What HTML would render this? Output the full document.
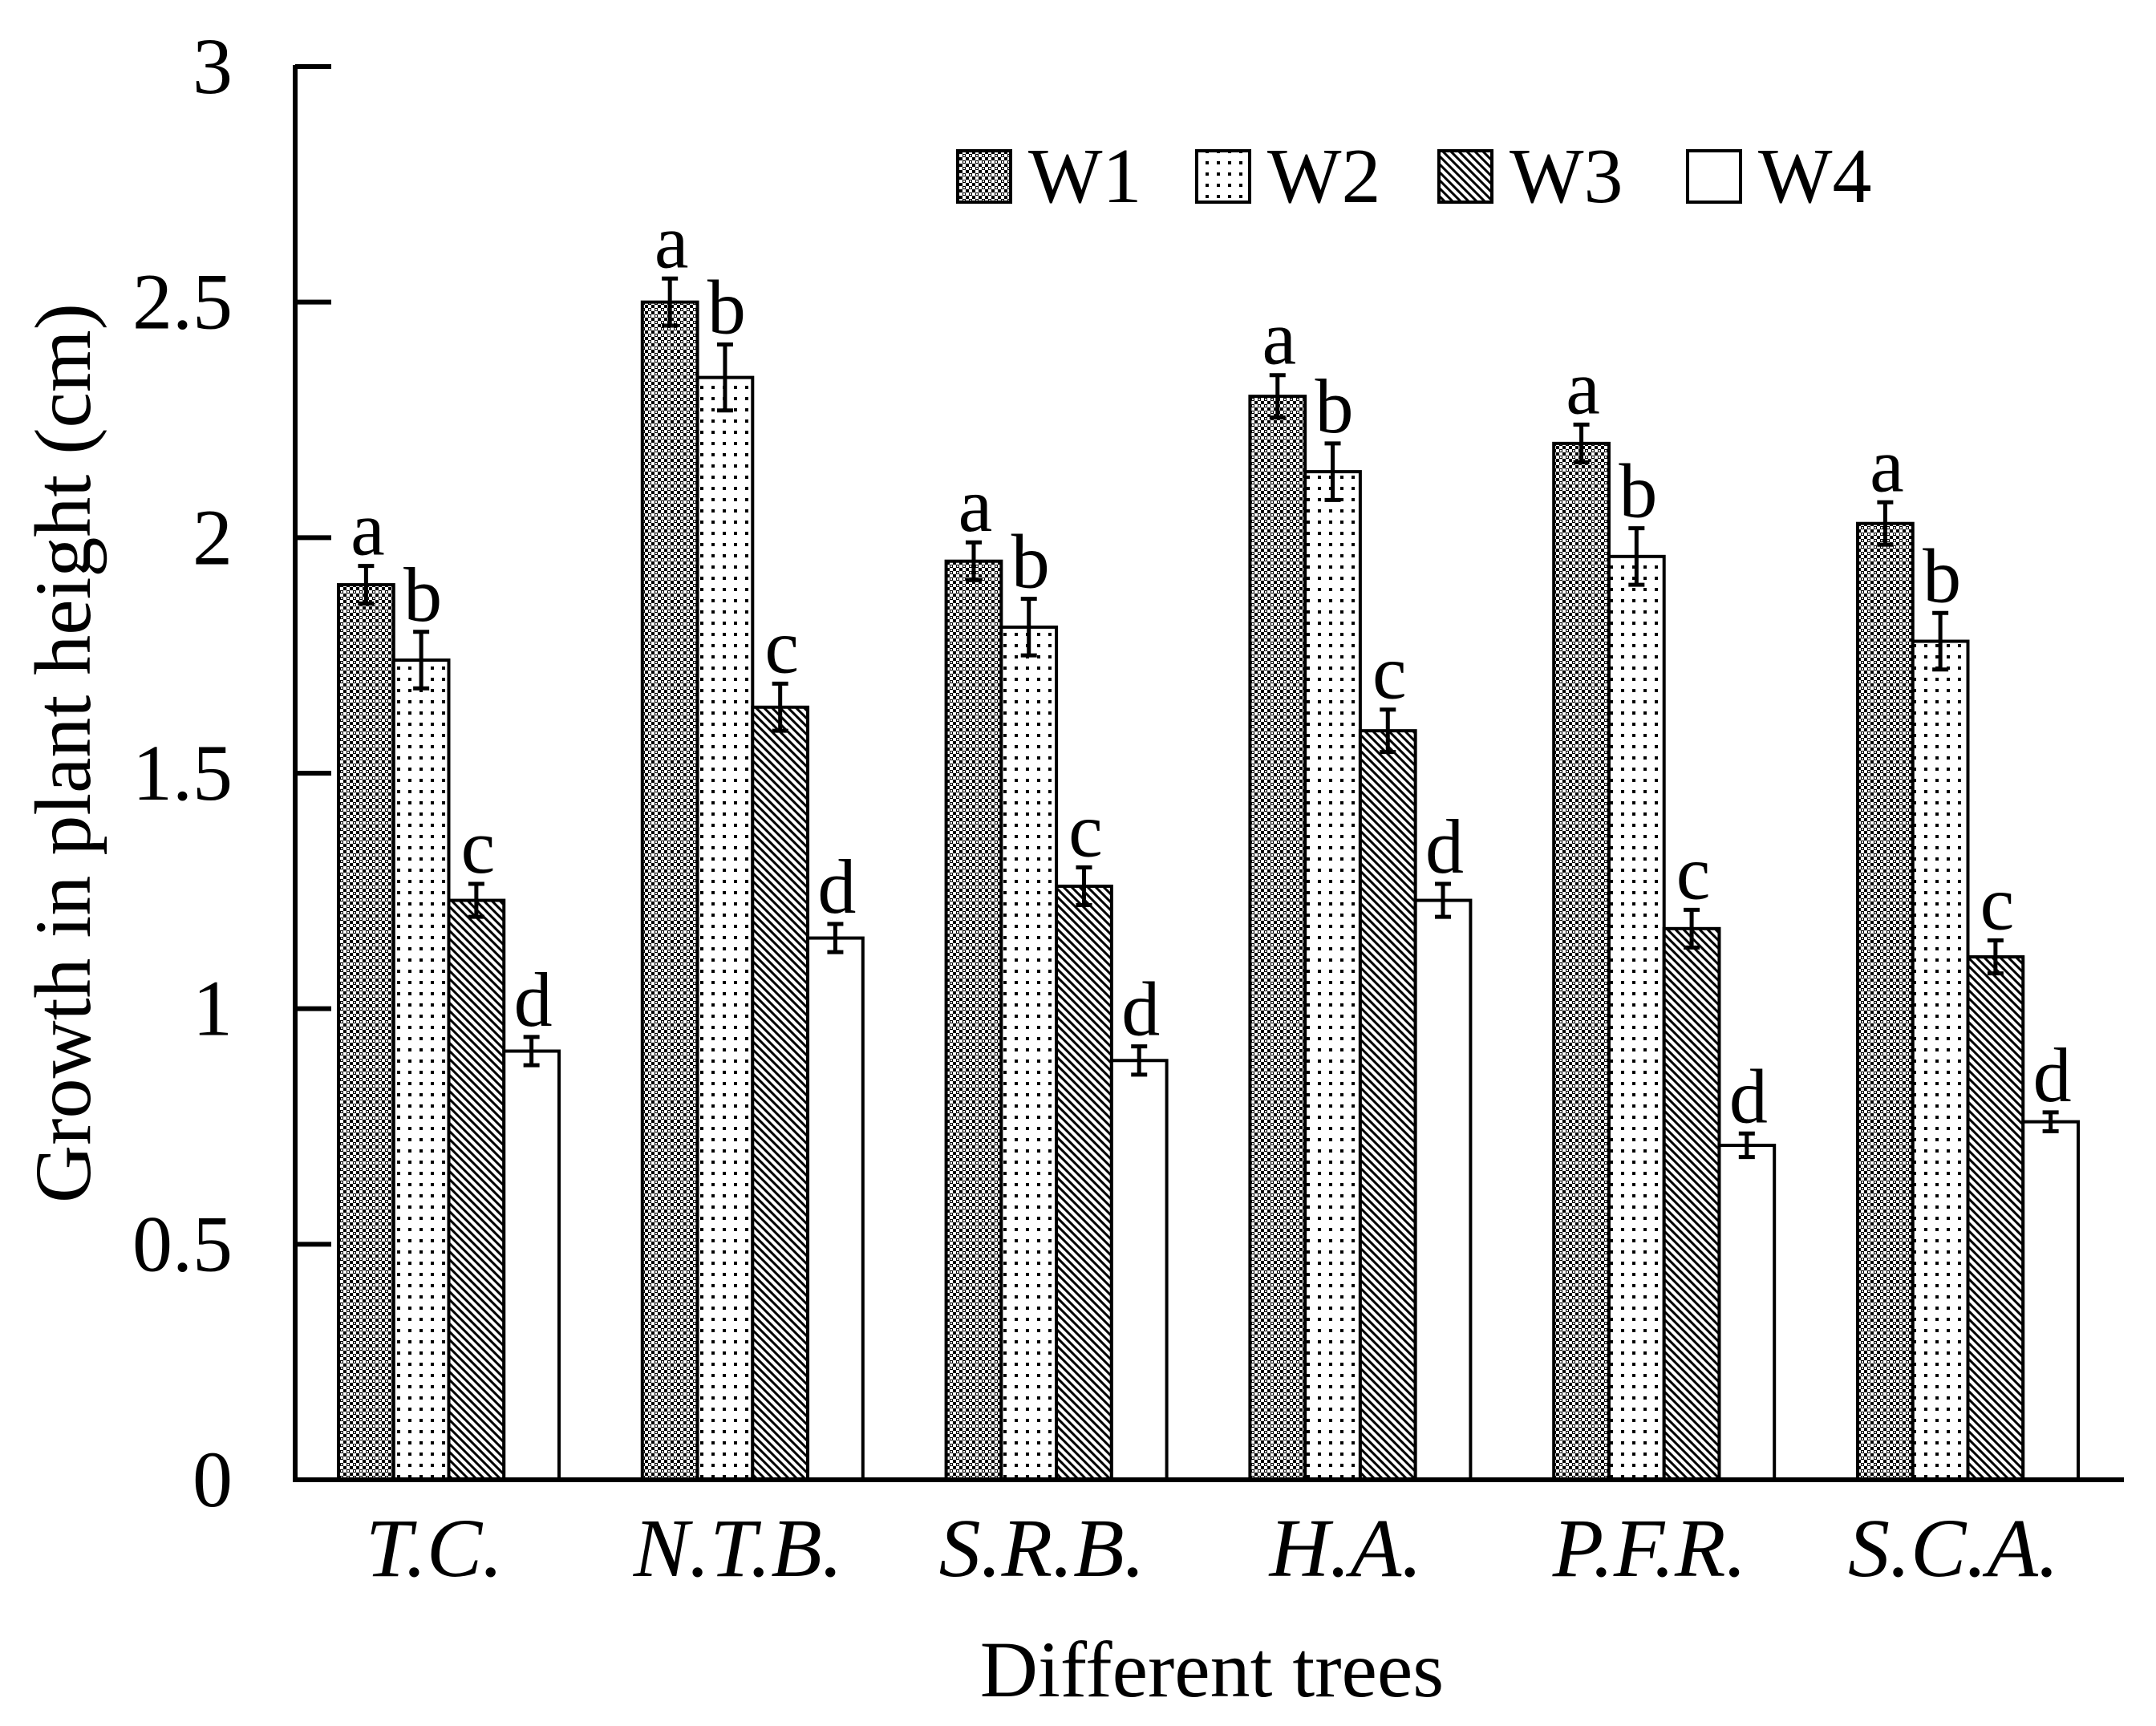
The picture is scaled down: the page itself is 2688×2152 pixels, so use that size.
<!DOCTYPE html>
<html><head><meta charset="utf-8">
<style>
html,body{margin:0;padding:0;background:#fff;}
svg{display:block;}
text{font-family:"Liberation Serif",serif;fill:#000;}
</style></head>
<body>
<svg id="chart" width="2688" height="2152" viewBox="0 0 2688 2152" xmlns="http://www.w3.org/2000/svg">
<defs>
<pattern id="p1" patternUnits="userSpaceOnUse" width="8" height="8">
<rect width="8" height="8" fill="#fff"/>
<rect x="0" y="0" width="4" height="4" fill="#000"/>
<rect x="4" y="4" width="4" height="4" fill="#000"/>
<rect x="1" y="1" width="2" height="2" fill="#fff"/>
</pattern>
<pattern id="p2" patternUnits="userSpaceOnUse" width="14" height="14">
<rect width="14" height="14" fill="#fff"/>
<rect x="5" y="5" width="4" height="4" fill="#000"/>
</pattern>
<pattern id="p3" patternUnits="userSpaceOnUse" width="10" height="10">
<rect width="10" height="10" fill="#fff"/>
<path d="M-2,-2 L12,12 M-2,8 L2,12 M8,-2 L12,2" stroke="#000" stroke-width="3"/>
</pattern>
<pattern id="p4" patternUnits="userSpaceOnUse" width="10" height="10">
<rect width="10" height="10" fill="#fff"/>
</pattern>
</defs>
<g id="bars"></g>
<g id="axes"></g>
<g id="legend"></g>
</svg>
<script>
const categories = ["T.C.","N.T.B.","S.R.B.","H.A.","P.F.R.","S.C.A."];
const seriesNames = ["W1","W2","W3","W4"];
const w1 = [1.90, 2.50, 1.95, 2.30, 2.20, 2.03];
const w2 = [1.74, 2.34, 1.81, 2.14, 1.96, 1.78];
const w3 = [1.23, 1.64, 1.26, 1.59, 1.17, 1.11];
const w4 = [0.91, 1.15, 0.89, 1.23, 0.71, 0.76];
const e1 = [0.04, 0.05, 0.04, 0.045, 0.04, 0.045];
const e2 = [0.06, 0.07, 0.06, 0.06, 0.06, 0.06];
const e3 = [0.035, 0.05, 0.04, 0.045, 0.04, 0.035];
const e4 = [0.03, 0.03, 0.03, 0.035, 0.025, 0.02];
const sigLetters = ["a","b","c","d"];
const yTicks = [0, 0.5, 1, 1.5, 2, 2.5, 3];
const yTickLabels = ["0","0.5","1","1.5","2","2.5","3"];

const NS = "http://www.w3.org/2000/svg";
const X0 = 368, XEND = 2648, Y0 = 1845, Y3 = 83;
const GROUP0 = 422, PITCH = 378.8, BW = 68.75;
function yScale(v){ return Y0 - (v/3)*(Y0-Y3); }
function xBar(ci, si){ return GROUP0 + ci*PITCH + si*BW; }
function mk(tag, attrs, parent){
  const el = document.createElementNS(NS, tag);
  for (const k in attrs) el.setAttribute(k, attrs[k]);
  parent.appendChild(el); return el;
}
const values = [w1,w2,w3,w4];
const errs = [e1,e2,e3,e4];
const fills = ["url(#p1)","url(#p2)","url(#p3)","url(#p4)"];
const gb = document.getElementById("bars");
for (let si=0; si<4; si++){
  for (let ci=0; ci<categories.length; ci++){
    const v = values[si][ci], e = errs[si][ci];
    const x = xBar(ci, si), y = yScale(v);
    const r = mk("rect",{x:x,y:y,width:BW,height:Y0-y,fill:fills[si],stroke:"#000","stroke-width":4},gb);
    
    
    const cx = x + BW/2, yt = yScale(v+e), yb = yScale(v-e);
    const eb = mk("path",{d:`M${cx},${yt} L${cx},${yb} M${cx-10},${yt} L${cx+10},${yt} M${cx-10},${yb} L${cx+10},${yb}`,stroke:"#000","stroke-width":5,fill:"none"},gb);
    
    
    const t = mk("text",{x:cx+2,y:yt-14,"text-anchor":"middle","font-size":96},gb);
    t.textContent = sigLetters[si];
    
    
  }
}
const ga = document.getElementById("axes");
const yl = mk("path",{d:`M${X0},${Y3-2} L${X0},${Y0} L${XEND},${Y0}`,stroke:"#000","stroke-width":6,fill:"none"},ga);


yTicks.forEach((v,i)=>{
  const y = yScale(v);
  const tk = mk("line",{x1:X0,x2:X0+45,y1:y,y2:y,stroke:"#000","stroke-width":6},ga);
  
  
  const t = mk("text",{x:290,y:y+33,"text-anchor":"end","font-size":100},ga);
  t.textContent = yTickLabels[i];
  
  
});
categories.forEach((c,ci)=>{
  const cx = xBar(ci,0) + 2*BW - 18;
  const t = mk("text",{x:cx,y:1965,"text-anchor":"middle","font-size":104,"font-style":"italic"},ga);
  t.textContent = c;
  
  
});
const xt = mk("text",{x:1511,y:2115,"text-anchor":"middle","font-size":100},ga);
xt.textContent = "Different trees";


const ytt = mk("text",{x:0,y:0,"text-anchor":"middle","font-size":100,transform:"translate(112,939) rotate(-90)"},ga);
ytt.textContent = "Growth in plant height (cm)";


const gl = document.getElementById("legend");
const legX = [1194, 1492, 1794, 2104];
seriesNames.forEach((n,si)=>{
  const bx = legX[si];
  const r = mk("rect",{x:bx,y:188,width:66,height:64,fill:fills[si],stroke:"#000","stroke-width":4},gl);
  
  
  const t = mk("text",{x:bx+88,y:252,"font-size":98},gl);
  t.textContent = n;
  
  
});
</script>
</body></html>
